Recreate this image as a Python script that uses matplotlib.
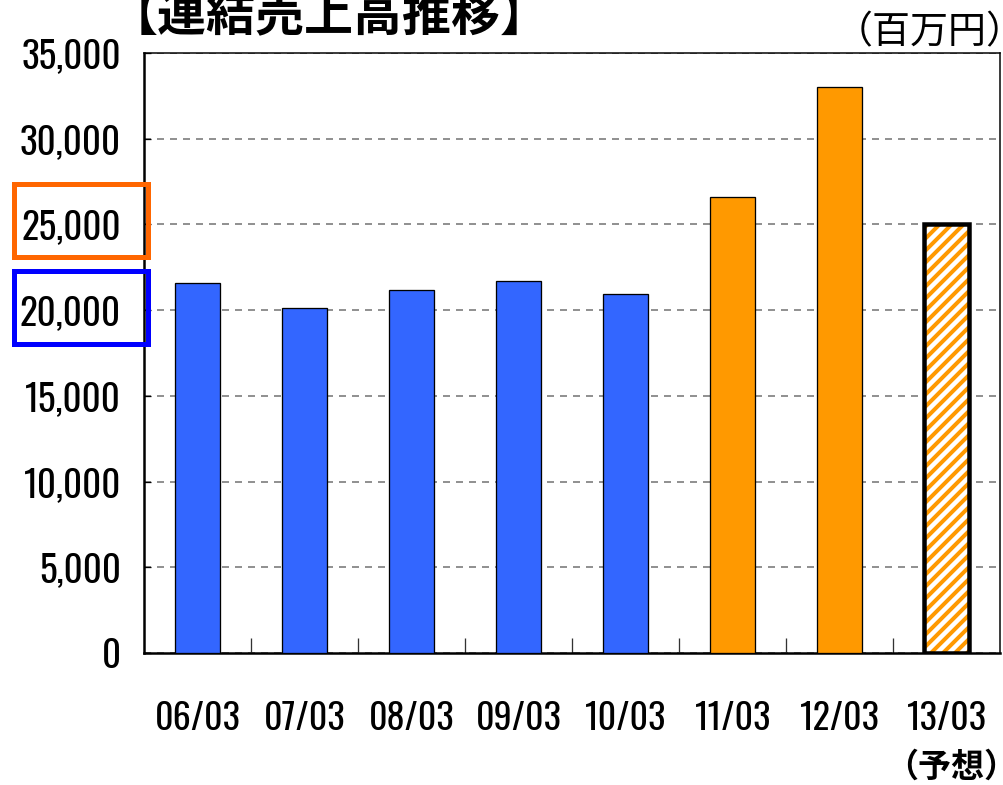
import matplotlib
matplotlib.use("Agg")
import matplotlib.pyplot as plt
from matplotlib import font_manager as fm
from matplotlib.patches import Rectangle

categories = ["06/03", "07/03", "08/03", "09/03", "10/03", "11/03", "12/03", "13/03"]
sales = [21600, 20100, 21200, 21700, 20950, 26600, 33000, 25000]
bar_colors = ["#3366FF"] * 5 + ["#FF9900"] * 2 + ["#FFFFFF"]
forecast_flags = [False] * 7 + [True]
yticks = [0, 5000, 10000, 15000, 20000, 25000, 30000, 35000]
ytick_labels = ["{:,}".format(v) for v in yticks]

DPI = 144


def px(v):
    """pixels -> points at the chosen dpi"""
    return v * 72.0 / DPI


names = {f.name for f in fm.fontManager.ttflist}
narrow = "DejaVu Sans"
for cand in ["Oswald", "Pathway Gothic One", "Fjalla One", "Roboto Condensed", "Archivo Narrow",
             "PT Sans Narrow", "Liberation Sans Narrow"]:
    if cand in names:
        narrow = cand
        break
cjk = ["Noto Sans CJK JP", "DejaVu Sans"]

plt.rcParams["hatch.linewidth"] = px(4.0)

fig = plt.figure(figsize=(1003 / DPI, 785 / DPI), dpi=DPI)
ax = fig.add_axes([0.1436, 0.168, 0.9975 - 0.1436, 0.9325 - 0.168])

x = list(range(len(categories)))
for xi, v, c, f in zip(x, sales, bar_colors, forecast_flags):
    if f:
        ax.bar(xi, v, width=0.42, color="white", edgecolor="#FF9900", hatch="////", linewidth=0, zorder=3)
        ax.bar(xi, v, width=0.42, fill=False, edgecolor="black", linewidth=px(4.5), zorder=4)
    else:
        ax.bar(xi, v, width=0.42, color=c, edgecolor="black", linewidth=px(1.3), zorder=3)

ax.set_xlim(-0.5, len(categories) - 0.5)
ax.set_ylim(0, 35000)
ax.set_yticks(yticks)
ax.set_yticklabels(ytick_labels, family=narrow, fontweight="bold", fontsize=px(37))
ax.set_xticks(x)
ax.set_xticklabels(categories, family=narrow, fontweight="bold", fontsize=px(36))
ax.set_xticks([i + 0.5 for i in x[:-1]], minor=True)
ax.tick_params(axis="x", which="major", length=0, pad=px(48))
ax.tick_params(axis="x", which="minor", direction="in", length=px(15), width=px(1.3), color="#333333")
ax.tick_params(axis="y", direction="in", length=px(7), width=px(1.3), pad=px(23))
lw_grid = px(1.6)
ax.yaxis.grid(True, linestyle=(0, (px(7) / lw_grid, px(6) / lw_grid)), color="#777777",
              linewidth=lw_grid, zorder=0)
ax.set_axisbelow(True)
for s in ["left", "bottom"]:
    ax.spines[s].set_linewidth(px(2.5))
for s in ["top", "right"]:
    ax.spines[s].set_linewidth(px(1.5))

fig.text(0.108, 1 - 17 / 785, "【連結売上高推移】", family=cjk, fontweight="bold", fontsize=px(49),
         ha="left", va="center")
fig.text(1.022, 1 - 33 / 785, "（百万円）", family=cjk, fontsize=px(38), ha="right", va="center")
fig.text(1.014, 1 - 767 / 785, "（予想）", family=cjk, fontweight="bold", fontsize=px(33),
         ha="right", va="center")

fig.patches.append(Rectangle((14 / 1003, 1 - 257 / 785), 134 / 1003, 73 / 785, transform=fig.transFigure,
                             fill=False, edgecolor="#FF6600", linewidth=px(5), zorder=5))
fig.patches.append(Rectangle((14 / 1003, 1 - 344 / 785), 134 / 1003, 73 / 785, transform=fig.transFigure,
                             fill=False, edgecolor="#0000FF", linewidth=px(5), zorder=5))

fig.savefig("out.png", dpi=DPI)
